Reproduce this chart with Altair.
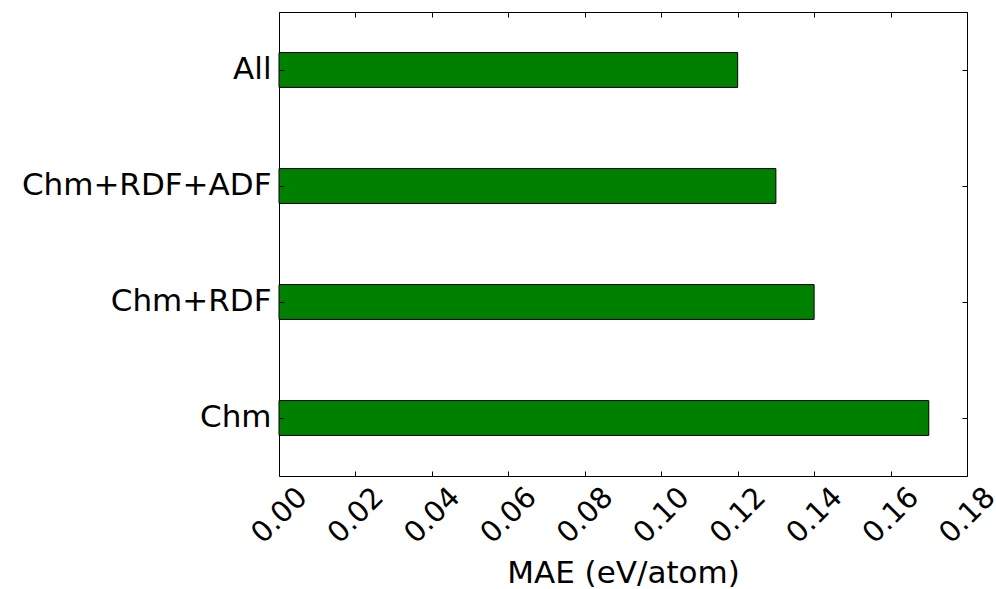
import altair as alt
import pandas as pd

categories = ["All", "Chm+RDF+ADF", "Chm+RDF", "Chm"]
mae = [0.12, 0.13, 0.14, 0.17]
x_ticks = [0.00, 0.02, 0.04, 0.06, 0.08, 0.10, 0.12, 0.14, 0.16, 0.18]

df = pd.DataFrame({"feature": categories, "mae": mae})

W, H = 688, 464
TICK = 5
FS = 31
FONT = "DejaVu Sans"

bars = alt.Chart(df).mark_bar(color="#008000", stroke="black", strokeWidth=1).encode(
    x=alt.X(
        "mae:Q",
        scale=alt.Scale(domain=[0, 0.18], nice=False, zero=True),
        axis=alt.Axis(
            values=x_ticks, format=".2f", title="MAE (eV/atom)",
            labelAngle=-45, labelAlign="center", labelBaseline="middle",
            labelPadding=39, labelFlush=False, labelOverlap=False, labelBound=False,
            ticks=False, tickSize=0, domain=False,
            grid=True, gridColor="black", gridOpacity=1, gridWidth=1,
            gridDash=[TICK, H - 2 * TICK, TICK, 2000], zindex=1,
            labelFont=FONT, labelFontSize=29, labelColor="black", labelLimit=400,
            titleFont=FONT, titleFontSize=FS, titleFontWeight="normal", titleColor="black",
            titleY=106, titleBaseline="alphabetic",
        ),
    ),
    y=alt.Y(
        "feature:N", sort=categories,
        scale=alt.Scale(paddingInner=0.7, paddingOuter=0.35),
        axis=alt.Axis(
            title=None, labelPadding=8, ticks=False, tickSize=0, domain=False,
            grid=True, gridColor="black", gridOpacity=1, gridWidth=1,
            gridDash=[TICK, W - 2 * TICK, TICK, 2000], zindex=1,
            labelFont=FONT, labelFontSize=FS, labelColor="black", labelLimit=400,
        ),
    ),
).properties(
    width=W, height=H,
    autosize=alt.AutoSizeParams(type="none"),
    padding={"left": 279, "top": 12, "right": 29, "bottom": 113},
).configure(
    background="white",
    view=alt.ViewConfig(stroke="black", strokeWidth=1),
)

bars.save("out.html", embed_options={"renderer": "svg", "actions": False})
